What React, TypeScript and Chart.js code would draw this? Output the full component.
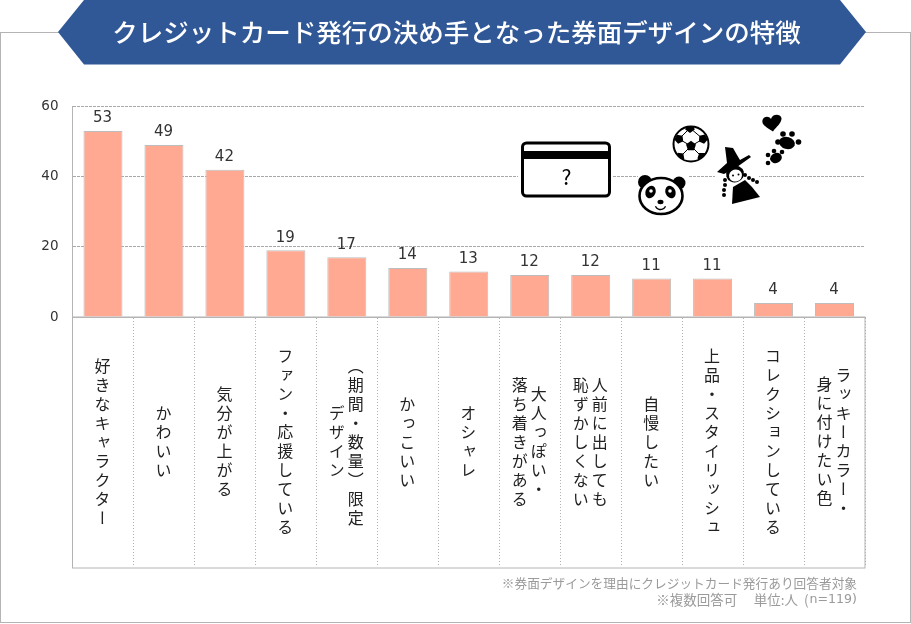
import React, { useEffect, useRef, useState } from "react";
import { Chart, registerables } from "chart.js";

Chart.register(...registerables);

const categories = [
  "好きなキャラクター",
  "かわいい",
  "気分が上がる",
  "ファン・応援している",
  "（期間・数量）限定\nデザイン",
  "かっこいい",
  "オシャレ",
  "大人っぽい・\n落ち着きがある",
  "人前に出しても\n恥ずかしくない",
  "自慢したい",
  "上品・スタイリッシュ",
  "コレクションしている",
  "ラッキーカラー・\n身に付けたい色",
];
const values = [53, 49, 42, 19, 17, 14, 13, 12, 12, 11, 11, 4, 4];
const yTicks = [0, 20, 40, 60];
const titleText = "クレジットカード発行の決め手となった券面デザインの特徴";
const noteLine1 = "※券面デザインを理由にクレジットカード発行あり回答者対象";
const noteLine2a = "※複数回答可　 単位:人  (";
const noteLine2b = "n=119)";

const JP = '"Noto Sans CJK JP", sans-serif';
const LATIN = '"DejaVu Sans", sans-serif';
const FRAME = "#b4b4b4";
const BLUE = "#305796";

function disc(c: CanvasRenderingContext2D, x: number, y: number, rx: number, ry = rx, rot = 0) {
  c.beginPath();
  c.ellipse(x, y, rx, ry, rot, 0, Math.PI * 2);
  c.fill();
}

function poly(c: CanvasRenderingContext2D, pts: number[][]) {
  c.beginPath();
  pts.forEach(([x, y], i) => (i ? c.lineTo(x, y) : c.moveTo(x, y)));
  c.closePath();
  c.fill();
}

function drawIcons(c: CanvasRenderingContext2D) {
  c.save();
  // white halos that interrupt the gridline
  c.fillStyle = "#fff";
  c.fillRect(518, 140, 95, 60);
  c.fillRect(638, 170, 50, 48);
  c.fillRect(715, 145, 44, 62);

  // card
  c.strokeStyle = "#000";
  c.fillStyle = "#000";
  c.lineWidth = 3;
  c.beginPath();
  c.roundRect(522.5, 143, 87, 53, 4);
  c.stroke();
  c.fillRect(522, 151, 88, 8);
  c.font = `21px ${JP}`;
  c.textAlign = "center";
  c.textBaseline = "middle";
  c.fillText("?", 566.5, 177);

  // panda
  disc(c, 645, 182, 7);
  disc(c, 679, 183, 6.5);
  c.fillStyle = "#fff";
  c.lineWidth = 2.6;
  c.beginPath();
  c.ellipse(661, 196, 21.5, 18, 0, 0, Math.PI * 2);
  c.fill();
  c.stroke();
  c.fillStyle = "#000";
  disc(c, 650.5, 192, 5, 6.5, 0.4);
  disc(c, 670.5, 192, 5, 6.5, -0.4);
  c.fillStyle = "#fff";
  disc(c, 651, 191, 1.8);
  disc(c, 670, 191, 1.8);
  c.fillStyle = "#000";
  disc(c, 660.5, 202, 3, 2.2);
  c.lineWidth = 1.3;
  c.beginPath();
  c.arc(660.5, 204, 5.5, 0.4, Math.PI - 0.4);
  c.stroke();

  // ball
  c.lineWidth = 2;
  c.fillStyle = "#fff";
  c.beginPath();
  c.arc(691, 144, 17.5, 0, Math.PI * 2);
  c.fill();
  c.stroke();
  c.save();
  c.beginPath();
  c.arc(691, 144, 17.5, 0, Math.PI * 2);
  c.clip();
  c.fillStyle = "#000";
  const pent = (x: number, y: number, r: number, a: number) =>
    poly(c, [0, 1, 2, 3, 4].map((i) => {
      const t = a + (i * 2 * Math.PI) / 5;
      return [x + r * Math.cos(t), y + r * Math.sin(t)];
    }));
  pent(691, 146, 5.2, -Math.PI / 2);
  pent(679, 139, 4.8, 0.5);
  pent(703, 139, 4.8, 2.6);
  pent(690, 128, 5, 1.57);
  pent(680, 157, 4.8, -0.8);
  pent(702, 157, 4.8, -2.2);
  c.strokeStyle = "#000";
  c.lineWidth = 1;
  c.beginPath();
  c.moveTo(691, 146); c.lineTo(679, 139);
  c.moveTo(691, 146); c.lineTo(703, 139);
  c.moveTo(691, 146); c.lineTo(680, 157);
  c.moveTo(691, 146); c.lineTo(702, 157);
  c.moveTo(690, 128); c.lineTo(679, 139);
  c.moveTo(690, 128); c.lineTo(703, 139);
  c.stroke();
  c.restore();

  // witch
  c.fillStyle = "#000";
  poly(c, [[733, 187], [745, 180], [752, 187], [760, 197], [732, 204]]);
  poly(c, [[725, 147], [733, 148], [737, 155], [740, 160], [749, 155], [751, 157], [737, 167], [724, 174], [717, 172], [727, 163]]);
  disc(c, 735, 174, 9, 8.5, -0.3);
  c.fillStyle = "#fff";
  disc(c, 735.5, 175.5, 6.5, 6, -0.3);
  c.fillStyle = "#000";
  disc(c, 733, 175.5, 1);
  disc(c, 738.5, 174.5, 1);
  [[725, 180], [725, 185], [724, 190], [724, 195], [745, 175], [749, 178], [753, 180], [757, 182]].forEach(([x, y]) =>
    disc(c, x, y, 2)
  );

  // heart
  c.beginPath();
  c.moveTo(773, 131.5);
  c.bezierCurveTo(768, 128, 761, 125, 762.5, 120);
  c.bezierCurveTo(764, 116, 769, 116, 771, 119);
  c.bezierCurveTo(772, 114, 780, 113, 781.5, 118);
  c.bezierCurveTo(782, 123, 776, 127, 773, 131.5);
  c.fill();

  // paws
  disc(c, 787, 143, 8, 6, 0.3);
  [[778, 142, 2.8], [783, 134, 2.8], [792, 134, 2.8], [798.5, 142, 2.8]].forEach(([x, y, r]) => disc(c, x, y, r));
  disc(c, 776, 158, 6, 5, -0.4);
  [[768, 163, 2.3], [768, 155, 2.3], [774, 151, 2.3], [782, 152, 2.3]].forEach(([x, y, r]) => disc(c, x, y, r));
  c.restore();
}

const frame = {
  id: "frame",
  beforeDraw(chart: any) {
    const c: CanvasRenderingContext2D = chart.ctx;
    c.save();
    c.fillStyle = "#fff";
    c.fillRect(0, 0, 911, 624);
    c.strokeStyle = FRAME;
    c.lineWidth = 1;
    c.strokeRect(0.5, 32.5, 910, 590);
    const a = chart.chartArea;
    const x = chart.scales.x;
    c.strokeRect(a.left, a.bottom, a.right - a.left, x.bottom - a.bottom);
    c.fillStyle = BLUE;
    poly(c, [[84, 0], [840, 0], [866, 32], [840, 64.5], [84, 64.5], [58, 32]]);
    c.fillStyle = "#fff";
    c.font = `500 25.5px ${JP}`;
    c.textAlign = "center";
    c.textBaseline = "middle";
    c.fillText(titleText, 456.5, 32);
    c.fillStyle = "#9a9a9a";
    c.font = `12.7px ${JP}`;
    c.textAlign = "right";
    c.fillText(noteLine1, 857, 583);
    c.font = `12.6px ${LATIN}`;
    c.fillText(noteLine2b, 857, 600);
    const w = c.measureText(noteLine2b).width;
    c.font = `13.5px ${JP}`;
    c.fillText(noteLine2a, 857 - w - 1, 600);
    c.restore();
  },
  afterDatasetsDraw(chart: any) {
    const c: CanvasRenderingContext2D = chart.ctx;
    const meta = chart.getDatasetMeta(0);
    c.save();
    c.fillStyle = "#333";
    c.font = `15px ${LATIN}`;
    c.textAlign = "center";
    c.textBaseline = "bottom";
    meta.data.forEach((el: any, i: number) => c.fillText(String(values[i]), el.x - 0.5, el.y - 5));
    c.restore();
    drawIcons(c);
  },
};

export default function App() {
  const ref = useRef<HTMLCanvasElement>(null);
  const [pos, setPos] = useState<number[]>([]);
  const [midY, setMidY] = useState(442);

  useEffect(() => {
    const chart = new Chart(ref.current!, {
      type: "bar",
      data: {
        labels: categories,
        datasets: [
          {
            data: values,
            backgroundColor: "#ffa992",
            borderColor: "#bdbdbd",
            borderWidth: 1,
            barPercentage: 0.64,
            categoryPercentage: 1,
          },
        ],
      },
      options: {
        animation: false,
        responsive: false,
        devicePixelRatio: 1,
        layout: { padding: { left: 0, right: 46, top: 106.5, bottom: 56 } },
        plugins: { legend: { display: false }, tooltip: { enabled: false } },
        scales: {
          x: {
            afterFit: (s: any) => { s.height = 251; },
            ticks: { display: false },
            border: { color: FRAME },
            grid: {
              offset: true,
              drawOnChartArea: false,
              tickLength: 250,
              tickColor: "#b0b0b0",
              tickBorderDash: [1, 2],
            },
          },
          y: {
            min: 0,
            max: 60,
            afterFit: (s: any) => { s.width = 72.5; },
            afterBuildTicks: (s: any) => { s.ticks = yTicks.map((value) => ({ value })); },
            ticks: { padding: 14, color: "#333", font: { family: "DejaVu Sans", size: 13.5 } },
            border: { color: FRAME, dash: [3, 1] },
            grid: { color: "#a8a8a8", drawTicks: false },
          },
        },
      },
      plugins: [frame],
    } as any);
    const sx = chart.scales.x;
    setPos(categories.map((_, i) => sx.getPixelForValue(i) - 1));
    setMidY((chart.chartArea.bottom + sx.bottom) / 2);
    return () => chart.destroy();
  }, []);

  return (
    <div lang="ja" style={{ position: "absolute", left: 0, top: 0, width: 911, height: 624, background: "#fff", overflow: "hidden" }}>
      <canvas ref={ref} width={911} height={624} style={{ display: "block" }} />
      {pos.map((x, i) => (
        <div
          key={categories[i]}
          style={{
            position: "absolute",
            left: x,
            top: midY,
            transform: "translate(-50%, -50%)",
            writingMode: "vertical-rl",
            textAlign: "center",
            whiteSpace: "pre",
            fontFamily: JP,
            fontSize: 16,
            letterSpacing: 3,
            lineHeight: "19px",
            color: "#222",
          }}
        >
          {categories[i]}
        </div>
      ))}
    </div>
  );
}
